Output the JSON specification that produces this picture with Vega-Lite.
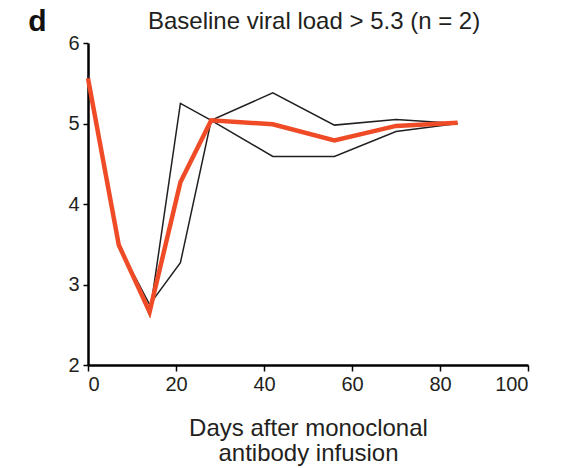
{
  "$schema": "https://vega.github.io/schema/vega-lite/v6.json",
  "width": 440,
  "height": 322,
  "autosize": {"type": "none"},
  "padding": {"left": 88, "top": 43, "right": 35, "bottom": 103},
  "background": "white",
  "config": {
    "view": {"stroke": null},
    "font": "Liberation Sans",
    "axis": {"grid": false, "domainColor": "#000", "tickColor": "#000", "labelColor": "#231f20", "titleColor": "#231f20", "labelFont": "Liberation Sans", "titleFont": "Liberation Sans"}
  },
  "title": {
    "text": "Baseline viral load > 5.3 (n = 2)",
    "anchor": "start",
    "frame": "group",
    "dx": 60,
    "dy": 28,
    "offset": 0,
    "fontSize": 24,
    "fontWeight": "normal",
    "color": "#231f20",
    "font": "Liberation Sans"
  },
  "datasets": {
    "patients": [
      {"day": 0, "load": 5.6, "patient": "A"},
      {"day": 7, "load": 3.5, "patient": "A"},
      {"day": 14, "load": 2.62, "patient": "A"},
      {"day": 21, "load": 5.25, "patient": "A"},
      {"day": 28, "load": 5.04, "patient": "A"},
      {"day": 42, "load": 4.59, "patient": "A"},
      {"day": 56, "load": 4.59, "patient": "A"},
      {"day": 70, "load": 4.9, "patient": "A"},
      {"day": 84, "load": 5.0, "patient": "A"},
      {"day": 0, "load": 5.5, "patient": "B"},
      {"day": 7, "load": 3.48, "patient": "B"},
      {"day": 14, "load": 2.75, "patient": "B"},
      {"day": 21, "load": 3.27, "patient": "B"},
      {"day": 28, "load": 5.04, "patient": "B"},
      {"day": 42, "load": 5.38, "patient": "B"},
      {"day": 56, "load": 4.98, "patient": "B"},
      {"day": 70, "load": 5.05, "patient": "B"},
      {"day": 84, "load": 5.0, "patient": "B"}
    ],
    "mean": [
      {"day": 0, "load": 5.56},
      {"day": 7, "load": 3.49},
      {"day": 14, "load": 2.66},
      {"day": 21, "load": 4.27},
      {"day": 28, "load": 5.04},
      {"day": 42, "load": 4.99},
      {"day": 56, "load": 4.79},
      {"day": 70, "load": 4.97},
      {"day": 84, "load": 5.01}
    ]
  },
  "layer": [
    {
      "data": {"name": "patients"},
      "mark": {"type": "line", "color": "#231f20", "strokeWidth": 1.5},
      "encoding": {
        "x": {
          "field": "day", "type": "quantitative",
          "scale": {"domain": [0, 100], "nice": false},
          "axis": {
            "values": [0, 20, 40, 60, 80, 100],
            "title": ["Days after monoclonal", "antibody infusion"],
            "titleFontSize": 24, "titleFontWeight": "normal", "titlePadding": 22, "titleLineHeight": 25,
            "labelFontSize": 20, "labelPadding": 3, "tickSize": 6, "tickWidth": 1.5, "domainWidth": 2.5
          }
        },
        "y": {
          "field": "load", "type": "quantitative",
          "scale": {"domain": [2, 6], "nice": false, "zero": false},
          "axis": {
            "values": [2, 3, 4, 5, 6],
            "format": "d",
            "title": "d",
            "titleAngle": 0, "titleFontSize": 30, "titleFontWeight": "bold", "titleColor": "#111",
            "titleX": -51, "titleY": -13, "titleAlign": "center", "titleBaseline": "alphabetic",
            "labelFontSize": 20, "labelPadding": 4, "tickSize": 5, "tickWidth": 1.5, "domainWidth": 2.5
          }
        },
        "detail": {"field": "patient", "type": "nominal"}
      }
    },
    {
      "data": {"name": "mean"},
      "mark": {"type": "line", "color": "#ef4b26", "strokeWidth": 4.5, "strokeJoin": "miter"},
      "encoding": {
        "x": {"field": "day", "type": "quantitative"},
        "y": {"field": "load", "type": "quantitative"}
      }
    }
  ]
}
